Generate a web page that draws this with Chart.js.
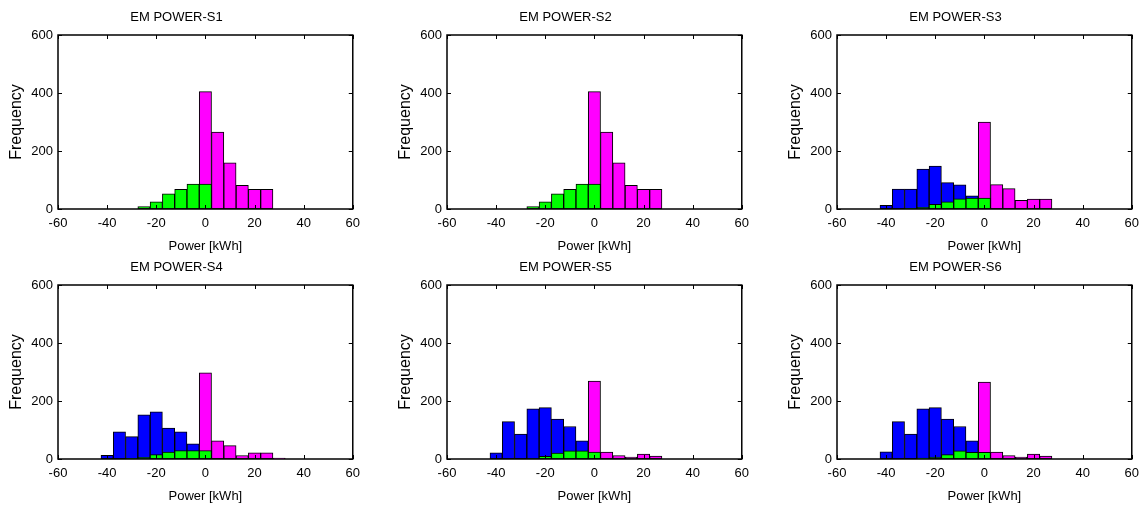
<!DOCTYPE html>
<html>
<head>
<meta charset="utf-8">
<script src="https://cdn.jsdelivr.net/npm/chart.js@4.4.0/dist/chart.umd.min.js"></script>
<style>
    body { margin: 0; background: #fff; }
    #wrap { position: relative; width: 1143px; height: 506px; }
    .panel { position: absolute; }
</style>
</head>
<body>
<div id="wrap"></div>
<script>
// histogram bin centres (kWh)
const bins = [-50, -45, -40, -35, -30, -25, -20, -15, -10, -5, 0, 5, 10, 15, 20, 25, 30, 35, 40, 45, 50];

const titles = ['EM POWER-S1', 'EM POWER-S2', 'EM POWER-S3', 'EM POWER-S4', 'EM POWER-S5', 'EM POWER-S6'];
const xTicks = [-60, -40, -20, 0, 20, 40, 60];
const yTicks = [0, 200, 400, 600];

const blueS1 = [0, 0, 0, 0, 0, 0, 0, 0, 0, 0, 0, 0, 0, 0, 0, 0, 0, 0, 0, 0, 0];
const greenS1 = [0, 0, 0, 0, 0, 8, 25, 52, 68, 86, 86, 0, 0, 0, 0, 0, 0, 0, 0, 0, 0];
const magentaS1 = [0, 0, 0, 0, 0, 0, 0, 0, 0, 0, 405, 265, 159, 82, 68, 68, 0, 0, 0, 0, 0];

const blueS2 = [0, 0, 0, 0, 0, 0, 0, 0, 0, 0, 0, 0, 0, 0, 0, 0, 0, 0, 0, 0, 0];
const greenS2 = [0, 0, 0, 0, 0, 8, 25, 52, 68, 86, 86, 0, 0, 0, 0, 0, 0, 0, 0, 0, 0];
const magentaS2 = [0, 0, 0, 0, 0, 0, 0, 0, 0, 0, 405, 265, 159, 82, 68, 68, 0, 0, 0, 0, 0];

const blueS3 = [0, 0, 13, 69, 69, 138, 148, 91, 83, 45, 0, 0, 0, 0, 0, 0, 0, 0, 0, 0, 0];
const greenS3 = [0, 0, 0, 0, 2, 6, 16, 25, 35, 38, 38, 0, 0, 0, 0, 0, 0, 0, 0, 0, 0];
const magentaS3 = [0, 0, 0, 0, 0, 0, 0, 0, 0, 0, 300, 84, 70, 30, 34, 34, 0, 0, 0, 0, 0];

const blueS4 = [0, 0, 13, 94, 77, 152, 163, 107, 94, 52, 0, 0, 0, 0, 0, 0, 0, 0, 0, 0, 0];
const greenS4 = [0, 0, 0, 0, 2, 6, 15, 24, 29, 29, 29, 0, 0, 0, 0, 0, 0, 0, 0, 0, 0];
const magentaS4 = [0, 0, 0, 0, 0, 0, 0, 0, 0, 0, 297, 63, 46, 12, 21, 21, 3, 0, 0, 0, 0];

const blueS5 = [0, 0, 21, 129, 86, 173, 177, 138, 112, 63, 0, 0, 0, 0, 0, 0, 0, 0, 0, 0, 0];
const greenS5 = [0, 0, 0, 0, 0, 1, 9, 20, 28, 28, 24, 0, 0, 0, 0, 0, 0, 0, 0, 0, 0];
const magentaS5 = [0, 0, 0, 0, 0, 0, 0, 0, 0, 0, 269, 24, 12, 7, 17, 10, 0, 0, 0, 0, 0];

const blueS6 = [0, 0, 25, 129, 86, 173, 177, 138, 112, 63, 0, 0, 0, 0, 0, 0, 0, 0, 0, 0, 0];
const greenS6 = [0, 0, 0, 0, 0, 3, 7, 15, 28, 23, 23, 0, 0, 0, 0, 0, 0, 0, 0, 0, 0];
const magentaS6 = [0, 0, 0, 0, 0, 0, 0, 0, 0, 0, 265, 24, 12, 7, 17, 10, 0, 0, 0, 0, 0];

const panels = [
    { blue: blueS1, green: greenS1, magenta: magentaS1, left: 0, top: 0 },
    { blue: blueS2, green: greenS2, magenta: magentaS2, left: 389, top: 0 },
    { blue: blueS3, green: greenS3, magenta: magentaS3, left: 779, top: 0 },
    { blue: blueS4, green: greenS4, magenta: magentaS4, left: 0, top: 250 },
    { blue: blueS5, green: greenS5, magenta: magentaS5, left: 389, top: 250 },
    { blue: blueS6, green: greenS6, magenta: magentaS6, left: 779, top: 250 }
];

const FONT = 'Liberation Sans, Arial, sans-serif';

// MATLAB-like axes box with inward ticks on all four sides
const boxPlugin = {
    id: 'box',
    afterDraw(chart) {
        const { ctx, chartArea: a, scales } = chart;
        ctx.save();
        ctx.strokeStyle = '#000';
        ctx.lineWidth = 1.5;
        ctx.strokeRect(a.left, a.top, a.right - a.left, a.bottom - a.top);
        ctx.lineWidth = 1;
        ctx.beginPath();
        xTicks.forEach((v) => {
            const px = Math.round(scales.x.getPixelForValue(v)) + 0.5;
            ctx.moveTo(px, a.bottom); ctx.lineTo(px, a.bottom - 4);
            ctx.moveTo(px, a.top); ctx.lineTo(px, a.top + 4);
        });
        yTicks.forEach((v) => {
            const py = Math.round(scales.y.getPixelForValue(v)) + 0.5;
            ctx.moveTo(a.left, py); ctx.lineTo(a.left + 4, py);
            ctx.moveTo(a.right, py); ctx.lineTo(a.right - 4, py);
        });
        ctx.stroke();
        ctx.restore();
    }
};

function toPoints(values) {
    return bins.map((b, i) => ({ x: b, y: values[i] }));
}

function barSet(values, colour, order) {
    return {
        data: toPoints(values),
        backgroundColor: colour,
        borderColor: '#000',
        borderWidth: 1,
        borderSkipped: false,
        barPercentage: 1,
        categoryPercentage: 1,
        grouped: false,
        order: order
    };
}

document.addEventListener('DOMContentLoaded', function () {
    const wrap = document.getElementById('wrap');
    panels.forEach((p, i) => {
        const canvas = document.createElement('canvas');
        canvas.className = 'panel';
        canvas.width = 367;
        canvas.height = 254;
        canvas.style.left = p.left + 'px';
        canvas.style.top = p.top + 'px';
        wrap.appendChild(canvas);

        new Chart(canvas.getContext('2d'), {
            type: 'bar',
            data: {
                datasets: [
                    barSet(p.green, '#00ff00', 0),
                    barSet(p.magenta, '#ff00ff', 1),
                    barSet(p.blue, '#0000ff', 2)
                ]
            },
            options: {
                responsive: false,
                animation: false,
                layout: { padding: { left: 0, right: 14, top: 0, bottom: 0 } },
                plugins: {
                    legend: { display: false },
                    tooltip: { enabled: false },
                    title: {
                        display: true,
                        text: titles[i],
                        color: '#000',
                        font: { family: FONT, size: 13, weight: 'normal' },
                        padding: { top: 10, bottom: 9.4 }
                    }
                },
                scales: {
                    x: {
                        type: 'linear',
                        min: -60,
                        max: 60,
                        offset: false,
                        grid: { display: false, drawTicks: false },
                        border: { display: false },
                        ticks: {
                            stepSize: 20,
                            color: '#000',
                            padding: 7,
                            maxRotation: 0,
                            font: { family: FONT, size: 13 }
                        },
                        title: {
                            display: true,
                            text: 'Power [kWh]',
                            color: '#000',
                            font: { family: FONT, size: 13 },
                            padding: { top: 0, bottom: 0 }
                        },
                        afterFit: (scale) => { scale.height = 45; }
                    },
                    y: {
                        min: 0,
                        max: 600,
                        grid: { display: false, drawTicks: false },
                        border: { display: false },
                        ticks: {
                            stepSize: 200,
                            color: '#000',
                            padding: 5,
                            font: { family: FONT, size: 13 }
                        },
                        title: {
                            display: true,
                            text: 'Frequency',
                            color: '#000',
                            font: { family: FONT, size: 16 },
                            padding: { top: 7, bottom: 0 }
                        },
                        afterFit: (scale) => { scale.width = 58; }
                    }
                }
            },
            plugins: [boxPlugin]
        });
    });
});
</script>
</body>
</html>
